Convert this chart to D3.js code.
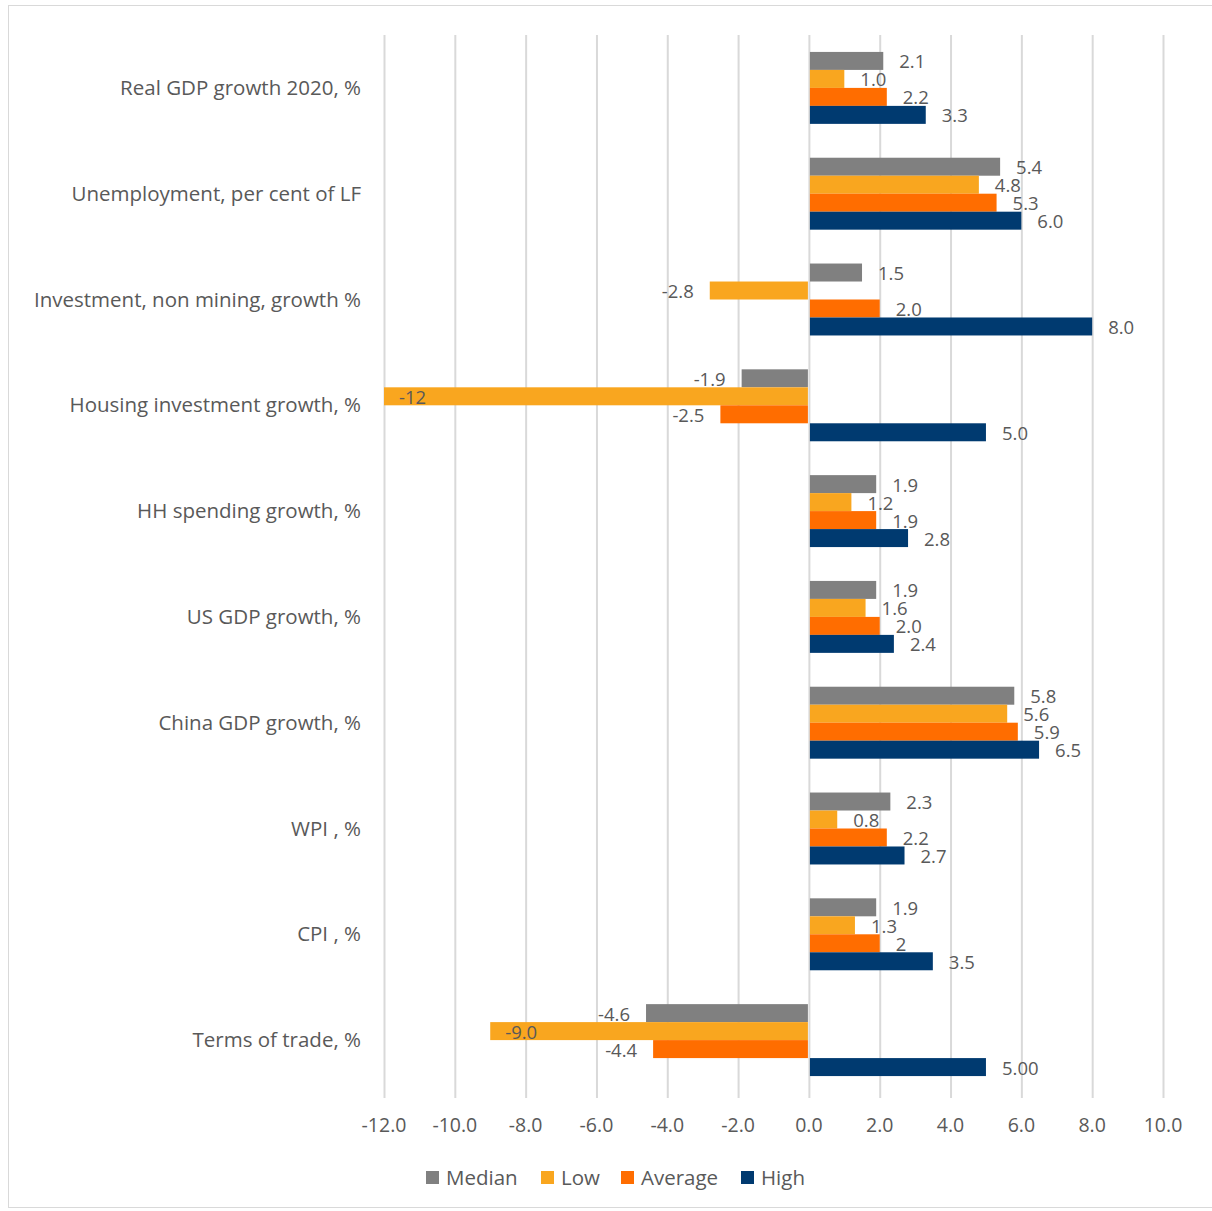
<!DOCTYPE html>
<html>
<head>
<meta charset="utf-8">
<script src="https://cdn.jsdelivr.net/npm/d3@7"></script>
<style>
  body { margin: 0; background: #fff; }
  svg text { font-family: "Open Sans", "Liberation Sans", sans-serif; fill: #595959; }
</style>
</head>
<body>
<div id="chart"></div>
<script>
const categories = [
  "Real GDP growth 2020, %",
  "Unemployment, per cent of LF",
  "Investment, non mining, growth %",
  "Housing investment growth, %",
  "HH spending growth, %",
  "US GDP growth, %",
  "China GDP growth, %",
  "WPI , %",
  "CPI , %",
  "Terms of trade, %"
];
const seriesNames = ["Median", "Low", "Average", "High"];
const seriesColors = ["#808080", "#F9A61F", "#FF6D00", "#003A70"];

const median  = [2.1, 5.4, 1.5, -1.9, 1.9, 1.9, 5.8, 2.3, 1.9, -4.6];
const low     = [1.0, 4.8, -2.8, -12, 1.2, 1.6, 5.6, 0.8, 1.3, -9.0];
const average = [2.2, 5.3, 2.0, -2.5, 1.9, 2.0, 5.9, 2.2, 2.0, -4.4];
const high    = [3.3, 6.0, 8.0, 5.0, 2.8, 2.4, 6.5, 2.7, 3.5, 5.0];

// data labels as shown in the source (mixed formats)
const medianLabels  = ["2.1", "5.4", "1.5", "-1.9", "1.9", "1.9", "5.8", "2.3", "1.9", "-4.6"];
const lowLabels     = ["1.0", "4.8", "-2.8", "-12", "1.2", "1.6", "5.6", "0.8", "1.3", "-9.0"];
const averageLabels = ["2.2", "5.3", "2.0", "-2.5", "1.9", "2.0", "5.9", "2.2", "2", "-4.4"];
const highLabels    = ["3.3", "6.0", "8.0", "5.0", "2.8", "2.4", "6.5", "2.7", "3.5", "5.00"];

const xTicks = [-12, -10, -8, -6, -4, -2, 0, 2, 4, 6, 8, 10];

const width = 1212, height = 1211;
const series = [median, low, average, high];
const seriesLabels = [medianLabels, lowLabels, averageLabels, highLabels];

const rows = [];
categories.forEach((c, i) => {
  seriesNames.forEach((s, j) => {
    rows.push({ cat: c, series: s, value: series[j][i], label: seriesLabels[j][i], color: seriesColors[j] });
  });
});

const svg = d3.select("#chart").append("svg")
  .attr("width", width)
  .attr("height", height);

// outer chart border
svg.append("rect")
  .attr("x", 8.5).attr("y", 5.5)
  .attr("width", width + 10).attr("height", 1202)
  .attr("fill", "none")
  .attr("stroke", "#d9d9d9")
  .attr("stroke-width", 1);

const x = d3.scaleLinear().domain([-12, 10]).range([384, 1163]);

const y = d3.scaleBand()
  .domain(categories)
  .range([35, 1093])
  .paddingInner(0.32)
  .paddingOuter(0.16);

const yInner = d3.scaleBand()
  .domain(seriesNames)
  .range([0, y.bandwidth()]);

// gridlines
svg.append("g")
  .selectAll("line")
  .data(xTicks)
  .join("line")
  .attr("x1", d => x(d) + 0.5).attr("x2", d => x(d) + 0.5)
  .attr("y1", 35).attr("y2", 1098)
  .attr("stroke", "#d9d9d9")
  .attr("stroke-width", 2);

// x tick labels (plain hyphen for negatives, like the source)
svg.append("g")
  .selectAll("text")
  .data(xTicks)
  .join("text")
  .attr("x", d => x(d))
  .attr("y", 1125)
  .attr("dy", "0.35em")
  .attr("text-anchor", "middle")
  .style("font-size", "19.5px")
  .text(d => d3.format(".1f")(d).replace("\u2212", "-"));

// category labels
svg.append("g")
  .selectAll("text")
  .data(categories)
  .join("text")
  .attr("x", 361)
  .attr("y", d => y(d) + y.bandwidth() / 2)
  .attr("dy", "0.35em")
  .attr("text-anchor", "end")
  .style("font-size", "20.5px")
  .text(d => d);

// bars
svg.append("g")
  .selectAll("rect")
  .data(rows)
  .join("rect")
  .attr("x", d => d.value >= 0 ? x(0) + 1 : x(d.value))
  .attr("y", d => y(d.cat) + yInner(d.series))
  .attr("width", d => d.value >= 0 ? x(d.value) - x(0) - 1 : x(0) - x(d.value) - 1)
  .attr("height", yInner.bandwidth())
  .attr("fill", d => d.color);

// data labels
svg.append("g")
  .selectAll("text")
  .data(rows)
  .join("text")
  .attr("x", d => {
    if (d.value <= -9) return x(d.value) + 15;
    return d.value >= 0 ? x(d.value) + 16 : x(d.value) - 16;
  })
  .attr("y", d => y(d.cat) + yInner(d.series) + yInner.bandwidth() / 2 + 1)
  .attr("dy", "0.35em")
  .attr("text-anchor", d => (d.value >= 0 || d.value <= -9) ? "start" : "end")
  .style("font-size", "18.5px")
  .text(d => d.label);

// legend
const legendX = [426, 541, 621, 741];
const legend = svg.append("g")
  .selectAll("g")
  .data(seriesNames)
  .join("g")
  .attr("transform", (d, i) => `translate(${legendX[i]}, 1178)`);

legend.append("rect")
  .attr("x", 0).attr("y", -7)
  .attr("width", 13).attr("height", 13)
  .attr("fill", (d, i) => seriesColors[i]);

legend.append("text")
  .attr("x", 20)
  .attr("y", 0)
  .attr("dy", "0.35em")
  .style("font-size", "20.5px")
  .text(d => d);
</script>
</body>
</html>
